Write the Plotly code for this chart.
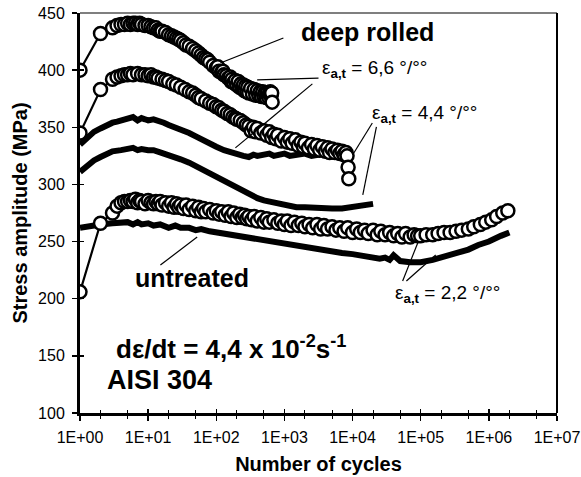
import plotly.graph_objects as go

# ---------------- data ----------------
# deep rolled, eps_a,t = 6,6 o/oo (open circles)
dr66_n = [1, 2, 3, 3.5, 4, 4.5, 5, 5.5, 6, 6.5, 7, 7.5, 8, 9, 10, 11, 12, 13, 14, 15,
          16, 18, 20, 22, 24, 26, 28, 30, 33, 36, 40, 45, 50, 55, 60, 65, 70, 75, 80, 90,
          100, 105, 110, 120, 125, 130, 140, 150, 160, 165, 170, 180, 190, 200, 210, 220,
          230, 240, 250, 260, 270, 280, 290, 300, 320, 340, 360, 380, 400, 420, 440, 460,
          480, 500, 520, 540, 560, 580, 600, 620, 640, 650, 660]
dr66_s = [400, 432, 437, 439, 440, 440, 441, 440, 441, 441, 440, 441, 440, 439, 439, 438,
          437, 437, 435, 434, 434, 433, 431, 430, 429, 428, 427, 426, 424, 422, 421, 419,
          417, 415, 413, 411, 410, 409, 407, 404, 402, 403, 399, 398, 399, 396, 395, 393,
          394, 390, 392, 389, 391, 387, 390, 385, 388, 384, 387, 382, 386, 381, 385, 380,
          384, 379, 383, 378, 382, 378, 381, 377, 381, 377, 380, 376, 380, 377, 379, 381,
          378, 380, 372]

# deep rolled, eps_a,t = 4,4 o/oo (open circles)
dr44_n = [1, 2, 3, 3.5, 4, 4.5, 5, 5.5, 6, 7, 8, 9, 10, 11, 12, 13, 14, 16, 18, 20, 23, 26,
          30, 35, 40, 45, 50, 55, 60, 70, 80, 90, 100, 110, 120, 130, 145, 160, 175, 190,
          200, 225, 250, 275, 300, 325, 350, 375, 400, 450, 500, 550, 600, 650, 700, 750,
          800, 900, 1000, 1100, 1200, 1300, 1450, 1600, 1750, 1900, 2000, 2250, 2500, 2750,
          3000, 3300, 3600, 4000, 4300, 4600, 5000, 5500, 6000, 6500, 7000, 7500, 8000,
          8300, 8600, 8800]
dr44_s = [345, 383, 392, 394, 395, 396, 396, 397, 396, 397, 396, 396, 395, 396, 394, 394,
          393, 392, 391, 390, 388, 387, 385, 383, 381, 380, 378, 376, 375, 373, 371, 370,
          368, 367, 365, 364, 362, 361, 359, 358, 357, 356, 354, 352, 351, 347, 350, 346,
          349, 345, 347, 343, 346, 341, 344, 340, 343, 338, 341, 337, 340, 336, 339, 334,
          337, 333, 336, 332, 335, 331, 334, 330, 333, 329, 332, 328, 331, 328, 330, 327,
          329, 326, 328, 325, 315, 305]

# deep rolled, eps_a,t = 2,2 o/oo (open circles)
dr22_n = [1, 2, 3, 3.5, 4, 4.5, 5, 5.5, 6, 6.5, 7, 7.5, 8, 9, 10, 11, 12, 13, 14, 15, 16,
          18, 20, 22, 24, 26, 28, 30, 33, 36, 40, 45, 50, 55, 60, 65, 70, 80, 90, 100, 110,
          120, 135, 150, 165, 180, 200, 220, 240, 260, 280, 300, 330, 360, 400, 450, 500,
          550, 600, 700, 800, 900, 1000, 1100, 1250, 1400, 1600, 1800, 2000, 2300, 2600,
          3000, 3400, 3800, 4300, 5000, 5700, 6500, 7500, 8500, 10000, 11500, 13000, 15000,
          17000, 20000, 23000, 26000, 30000, 35000, 40000, 46000, 53000, 60000, 70000,
          80000, 90000, 100000, 120000, 150000, 180000, 220000, 270000, 330000, 400000,
          500000, 600000, 750000, 900000, 1100000, 1300000, 1600000, 1900000]
dr22_s = [206, 266, 275, 281, 284, 285, 285, 286, 285, 287, 284, 286, 285, 283, 286, 284,
          283, 285, 283, 285, 282, 284, 281, 284, 280, 283, 280, 282, 279, 282, 278, 281,
          277, 280, 276, 279, 276, 278, 275, 277, 274, 276, 273, 276, 272, 275, 271, 274,
          271, 273, 270, 272, 269, 272, 268, 271, 267, 270, 267, 269, 266, 268, 265, 268,
          264, 267, 264, 266, 263, 265, 262, 265, 261, 264, 261, 263, 260, 262, 259, 262,
          258, 261, 258, 260, 257, 260, 256, 259, 256, 258, 255, 257, 254, 257, 254, 256,
          255, 255, 256, 256, 257, 258, 258, 259, 260, 261, 263, 265, 267, 269, 272, 275,
          277]

# untreated, eps_a,t = 6,6 o/oo (solid)
un66_n = [1, 1.3, 1.6, 2, 2.5, 3, 3.5, 4, 5, 6, 7, 8, 9, 10, 12, 14, 17, 20, 25, 30, 35, 40,
          50, 60, 70, 80, 100, 130, 160, 200, 250, 300, 350, 400, 500, 600, 700, 800, 1000,
          1200, 1500, 2000, 2500, 3000, 4000]
un66_s = [335, 341, 346, 349, 352, 354, 355, 356, 358, 359, 356, 358, 357, 356, 357, 356, 354,
          352, 350, 348, 347, 345, 342, 340, 338, 336, 333, 330, 328, 326, 325, 324, 326, 325,
          326, 327, 325, 326, 327, 325, 326, 327, 325, 326, 327]

# untreated, eps_a,t = 4,4 o/oo (solid)
un44_n = [1, 1.3, 1.6, 2, 2.5, 3, 4, 5, 6, 7, 8, 10, 12, 15, 20, 25, 30, 40, 50, 60, 80, 100,
          130, 160, 200, 250, 300, 400, 500, 700, 1000, 1500, 2000, 3000, 5000, 7000, 10000,
          15000, 20000]
un44_s = [311, 317, 321, 324, 327, 329, 330, 331, 332, 330, 331, 330, 330, 328, 326, 324, 322,
          319, 316, 313, 310, 307, 303, 300, 297, 294, 291, 288, 286, 284, 282, 280, 280, 279,
          279, 279, 280, 282, 283]

# untreated, eps_a,t = 2,2 o/oo (solid)
un22_n = [1, 1.5, 2, 3, 4, 5, 6, 7, 8, 10, 12, 15, 20, 25, 30, 40, 50, 60, 80, 100, 150, 200,
          300, 400, 500, 700, 1000, 1500, 2000, 3000, 5000, 7000, 10000, 15000, 20000, 25000,
          30000, 35000, 40000, 50000, 70000, 100000, 150000, 200000, 300000, 500000, 700000,
          1000000, 1500000, 2000000]
un22_s = [262, 264, 265, 266, 266, 267, 265, 267, 265, 266, 264, 265, 262, 264, 262, 262, 260,
          261, 259, 258, 256, 255, 253, 252, 251, 250, 248, 246, 245, 243, 241, 240, 239, 237,
          236, 235, 236, 234, 238, 233, 232, 232, 234, 236, 239, 243, 247, 250, 255, 258]

x_tick_vals = [1, 10, 100, 1000, 10000, 100000, 1000000, 10000000]
x_tick_text = ["1E+00", "1E+01", "1E+02", "1E+03", "1E+04", "1E+05", "1E+06", "1E+07"]
y_tick_vals = [100, 150, 200, 250, 300, 350, 400, 450]

X_LOG_RANGE = [0, 7]
Y_RANGE = [100, 450]

FONT = "Liberation Sans, Arial, Helvetica, sans-serif"

fig = go.Figure()

for n, s in [(un66_n, un66_s), (un44_n, un44_s), (un22_n, un22_s)]:
    fig.add_trace(go.Scatter(x=n, y=s, mode="lines",
                             line=dict(color="black", width=6),
                             hoverinfo="skip", showlegend=False))

for n, s in [(dr66_n, dr66_s), (dr44_n, dr44_s), (dr22_n, dr22_s)]:
    fig.add_trace(go.Scatter(x=n, y=s, mode="lines+markers",
                             line=dict(color="black", width=2.2),
                             marker=dict(symbol="circle", size=13, color="white",
                                         line=dict(color="black", width=2.5)),
                             hoverinfo="skip", showlegend=False))

# invisible trace to carry the overlaid axes (inner half of crossing ticks)
fig.add_trace(go.Scatter(x=[1], y=[100], xaxis="x2", yaxis="y2", mode="markers",
                         marker=dict(opacity=0), hoverinfo="skip", showlegend=False))

axis_common = dict(showgrid=False, zeroline=False, color="black", automargin=False)

fig.update_layout(
    width=581, height=477,
    autosize=False,
    margin=dict(l=80, r=24, t=13, b=64, pad=0, autoexpand=False),
    paper_bgcolor="white", plot_bgcolor="white",
    font=dict(family=FONT, color="black", size=16),
    hovermode=False,
    xaxis=dict(type="log", range=X_LOG_RANGE, tickvals=x_tick_vals, ticktext=x_tick_text,
               ticks="outside", ticklen=5, tickwidth=1.5, showline=True, linewidth=3,
               linecolor="black", ticklabelstandoff=3,
               minor=dict(ticks="outside", ticklen=3, tickwidth=1, showgrid=False),
               tickfont=dict(size=16, family=FONT),
               title=dict(text="<b>Number of cycles</b>", font=dict(size=20, family=FONT),
                          standoff=12),
               **axis_common),
    yaxis=dict(range=Y_RANGE, tickvals=y_tick_vals, ticks="outside", ticklen=5,
               tickwidth=1.5, showline=True, linewidth=3, linecolor="black",
               ticklabelstandoff=4,
               tickfont=dict(size=16, family=FONT),
               title=dict(text="<b>Stress amplitude (MPa)</b>",
                          font=dict(size=20, family=FONT), standoff=6),
               **axis_common),
    xaxis2=dict(type="log", range=X_LOG_RANGE, overlaying="x", anchor="y", side="bottom",
                tickvals=x_tick_vals, showticklabels=False, ticks="inside", ticklen=4,
                tickwidth=1.5, showline=False,
                minor=dict(ticks="inside", ticklen=3, tickwidth=1, showgrid=False),
                **axis_common),
    yaxis2=dict(range=Y_RANGE, overlaying="y", anchor="x", side="left",
                tickvals=y_tick_vals, showticklabels=False, ticks="inside", ticklen=4,
                tickwidth=1.5, showline=False, **axis_common),
)

# thin frame on top and right
fig.add_shape(type="line", xref="paper", yref="paper", x0=0, x1=1, y0=1, y1=1,
              line=dict(color="black", width=1.2))
fig.add_shape(type="line", xref="paper", yref="paper", x0=1, x1=1, y0=0, y1=1,
              line=dict(color="black", width=2))


def to_paper(logn, s):
    return ((logn - X_LOG_RANGE[0]) / (X_LOG_RANGE[1] - X_LOG_RANGE[0]),
            (s - Y_RANGE[0]) / (Y_RANGE[1] - Y_RANGE[0]))


def label(text, x, y, size, bold=True, xanchor="left"):
    t = f"<b>{text}</b>" if bold else text
    fig.add_annotation(x=x, y=y, xref="x", yref="y", text=t, showarrow=False,
                       xanchor=xanchor, yanchor="middle",
                       font=dict(size=size, family=FONT, color="black"))


def leader(lx0, s0, lx1, s1):
    px0, py0 = to_paper(lx0, s0)
    px1, py1 = to_paper(lx1, s1)
    fig.add_shape(type="line", xref="paper", yref="paper", x0=px0, y0=py0, x1=px1, y1=py1,
                  line=dict(color="black", width=1.2))


eps = "ε<sub><b>a,t</b></sub>"

label("deep rolled", 4.22, 433, 25, xanchor="center")
leader(2.985, 428.1, 2.06, 406.3)

label(eps + " = 6,6 °/°°", 3.52, 401, 19, bold=False)
leader(3.50, 393.1, 2.60, 391.4)
leader(3.41, 388.0, 2.28, 332.0)

label(eps + " = 4,4 °/°°", 4.26, 362, 19, bold=False)
leader(4.29, 353.8, 4.00, 325.8)
leader(4.35, 350.3, 4.15, 290.8)

label("untreated", 1.647, 218, 25, xanchor="center")
leader(1.18, 229.5, 1.72, 254.0)

label(eps + " = 2,2 °/°°", 4.60, 204, 19, bold=False)
leader(4.735, 215.5, 4.956, 248.8)
leader(4.79, 215.5, 5.22, 238.3)

label("dε/dt = 4,4 x 10<sup>-2</sup>s<sup>-1</sup>", 0.50, 157, 26)
label("AISI 304", 0.37, 129, 27)

fig.write_html("out.html",
               config={"displayModeBar": False, "staticPlot": True},
               post_script="document.body.style.margin='0';"
                           "document.body.style.overflow='hidden';")
